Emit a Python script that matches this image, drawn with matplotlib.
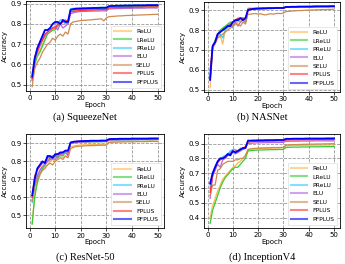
import numpy as np
import matplotlib.pyplot as plt

epochs = np.arange(1, 51)
names = ["ReLU", "LReLU", "PReLU", "ELU", "SELU", "FPLUS", "PFPLUS"]
colors = ["#ffb84d", "#33cc33", "#33ccff", "#b366e0", "#cd8a4e", "#ff3333", "#0000ff"]

# (a) SqueezeNet
squeeze = {
    "ReLU": [0.52,0.61,0.65,0.67,0.70,0.73,0.75,0.76,0.77,0.78,0.79,0.80,0.81,0.80,0.81,0.86,0.865,0.866,0.867,0.868,0.868,0.869,0.870,0.870,0.871,0.871,0.872,0.872,0.872,0.873,0.880,0.881,0.881,0.882,0.882,0.882,0.883,0.883,0.883,0.884,0.884,0.884,0.884,0.885,0.885,0.885,0.885,0.885,0.886,0.886],
    "LReLU": [0.53,0.60,0.64,0.66,0.69,0.72,0.75,0.76,0.77,0.77,0.79,0.80,0.81,0.81,0.80,0.87,0.870,0.871,0.872,0.872,0.873,0.873,0.874,0.874,0.874,0.875,0.875,0.875,0.876,0.876,0.884,0.885,0.885,0.885,0.886,0.886,0.886,0.886,0.887,0.887,0.887,0.887,0.887,0.888,0.888,0.888,0.888,0.888,0.889,0.889],
    "PReLU": [0.55,0.63,0.68,0.71,0.74,0.77,0.77,0.78,0.80,0.81,0.80,0.82,0.82,0.80,0.82,0.875,0.877,0.878,0.878,0.879,0.880,0.880,0.880,0.881,0.881,0.881,0.882,0.882,0.882,0.882,0.889,0.890,0.890,0.890,0.891,0.891,0.891,0.891,0.892,0.892,0.892,0.892,0.892,0.892,0.893,0.893,0.893,0.893,0.893,0.893],
    "ELU": [0.52,0.62,0.66,0.69,0.72,0.74,0.76,0.77,0.78,0.79,0.77,0.80,0.78,0.79,0.80,0.85,0.855,0.858,0.860,0.861,0.862,0.862,0.863,0.863,0.864,0.864,0.864,0.865,0.865,0.865,0.874,0.875,0.875,0.876,0.876,0.876,0.877,0.877,0.877,0.877,0.878,0.878,0.878,0.878,0.878,0.879,0.879,0.879,0.879,0.879],
    "SELU": [0.49,0.58,0.61,0.63,0.66,0.68,0.70,0.71,0.73,0.72,0.74,0.75,0.74,0.76,0.75,0.80,0.810,0.812,0.815,0.816,0.818,0.818,0.820,0.820,0.822,0.823,0.824,0.826,0.815,0.830,0.836,0.837,0.838,0.839,0.840,0.840,0.841,0.842,0.842,0.843,0.843,0.844,0.844,0.845,0.845,0.846,0.846,0.847,0.847,0.848],
    "FPLUS": [0.53,0.64,0.66,0.70,0.72,0.75,0.76,0.77,0.78,0.78,0.80,0.80,0.81,0.82,0.81,0.86,0.862,0.864,0.865,0.866,0.867,0.868,0.868,0.869,0.869,0.870,0.870,0.871,0.871,0.871,0.879,0.880,0.880,0.881,0.881,0.881,0.882,0.882,0.882,0.882,0.883,0.883,0.883,0.883,0.884,0.884,0.884,0.884,0.884,0.885],
    "PFPLUS": [0.54,0.63,0.68,0.71,0.74,0.77,0.77,0.78,0.80,0.81,0.81,0.80,0.82,0.81,0.81,0.87,0.873,0.875,0.876,0.876,0.877,0.877,0.878,0.878,0.879,0.879,0.879,0.880,0.880,0.880,0.888,0.889,0.889,0.890,0.890,0.890,0.891,0.891,0.891,0.891,0.892,0.892,0.892,0.892,0.892,0.893,0.893,0.893,0.893,0.893],
}

# (b) NASNet
nasnet = {
    "ReLU": [0.51,0.70,0.74,0.76,0.77,0.73,0.80,0.81,0.82,0.83,0.84,0.84,0.85,0.85,0.86,0.905,0.906,0.907,0.907,0.908,0.908,0.908,0.909,0.909,0.909,0.910,0.910,0.910,0.910,0.911,0.915,0.915,0.916,0.916,0.916,0.916,0.917,0.917,0.917,0.917,0.917,0.917,0.918,0.918,0.918,0.918,0.918,0.918,0.918,0.918],
    "LReLU": [0.56,0.71,0.75,0.78,0.80,0.81,0.82,0.83,0.84,0.84,0.85,0.85,0.86,0.86,0.85,0.905,0.906,0.907,0.908,0.908,0.909,0.909,0.909,0.910,0.910,0.910,0.910,0.911,0.911,0.911,0.916,0.916,0.917,0.917,0.917,0.917,0.917,0.918,0.918,0.918,0.918,0.918,0.918,0.918,0.919,0.919,0.919,0.919,0.919,0.919],
    "PReLU": [0.57,0.72,0.74,0.77,0.78,0.76,0.80,0.82,0.83,0.81,0.84,0.85,0.84,0.85,0.84,0.91,0.910,0.910,0.911,0.911,0.911,0.912,0.912,0.912,0.912,0.913,0.913,0.913,0.913,0.913,0.917,0.917,0.917,0.918,0.918,0.918,0.918,0.918,0.918,0.919,0.919,0.919,0.919,0.919,0.919,0.919,0.919,0.920,0.920,0.920],
    "ELU": [0.55,0.72,0.74,0.78,0.79,0.80,0.81,0.82,0.83,0.82,0.84,0.82,0.84,0.85,0.84,0.90,0.903,0.905,0.906,0.906,0.907,0.907,0.908,0.908,0.908,0.909,0.909,0.909,0.909,0.910,0.914,0.914,0.915,0.915,0.915,0.915,0.916,0.916,0.916,0.916,0.916,0.916,0.917,0.917,0.917,0.917,0.917,0.917,0.917,0.917],
    "SELU": [0.55,0.71,0.73,0.76,0.77,0.78,0.79,0.80,0.81,0.82,0.83,0.83,0.82,0.84,0.83,0.88,0.880,0.882,0.883,0.880,0.882,0.878,0.876,0.880,0.882,0.880,0.883,0.884,0.883,0.886,0.893,0.894,0.895,0.896,0.897,0.898,0.898,0.899,0.900,0.900,0.901,0.901,0.902,0.902,0.903,0.903,0.903,0.904,0.904,0.905],
    "FPLUS": [0.60,0.72,0.74,0.78,0.79,0.80,0.81,0.82,0.83,0.84,0.85,0.86,0.86,0.86,0.86,0.905,0.907,0.908,0.909,0.909,0.910,0.910,0.910,0.911,0.911,0.911,0.911,0.912,0.912,0.912,0.916,0.916,0.917,0.917,0.917,0.917,0.918,0.918,0.918,0.918,0.918,0.918,0.919,0.919,0.919,0.919,0.919,0.919,0.919,0.919],
    "PFPLUS": [0.55,0.72,0.74,0.78,0.79,0.80,0.81,0.82,0.82,0.84,0.85,0.85,0.86,0.85,0.86,0.90,0.904,0.906,0.907,0.908,0.908,0.909,0.909,0.910,0.910,0.910,0.911,0.911,0.911,0.911,0.916,0.916,0.917,0.917,0.917,0.918,0.918,0.918,0.918,0.918,0.918,0.919,0.919,0.919,0.919,0.919,0.919,0.919,0.920,0.920],
}

# (c) ResNet-50
resnet = {
    "ReLU": [0.45,0.62,0.68,0.72,0.75,0.77,0.78,0.80,0.81,0.80,0.82,0.83,0.82,0.83,0.82,0.88,0.885,0.888,0.890,0.891,0.892,0.892,0.893,0.893,0.894,0.894,0.895,0.895,0.895,0.896,0.908,0.909,0.909,0.910,0.910,0.910,0.911,0.911,0.911,0.911,0.912,0.912,0.912,0.912,0.912,0.913,0.913,0.913,0.913,0.913],
    "LReLU": [0.45,0.60,0.68,0.73,0.76,0.78,0.80,0.82,0.81,0.83,0.82,0.84,0.83,0.85,0.84,0.90,0.903,0.905,0.906,0.907,0.907,0.908,0.908,0.909,0.909,0.909,0.910,0.910,0.910,0.910,0.918,0.918,0.919,0.919,0.919,0.920,0.920,0.920,0.920,0.920,0.921,0.921,0.921,0.921,0.921,0.921,0.921,0.921,0.922,0.922],
    "PReLU": [0.57,0.66,0.71,0.75,0.77,0.79,0.81,0.81,0.82,0.84,0.84,0.83,0.85,0.85,0.84,0.905,0.907,0.908,0.909,0.910,0.910,0.911,0.911,0.912,0.912,0.912,0.913,0.913,0.913,0.913,0.920,0.921,0.921,0.921,0.922,0.922,0.922,0.922,0.922,0.923,0.923,0.923,0.923,0.923,0.923,0.923,0.924,0.924,0.924,0.924],
    "ELU": [0.58,0.67,0.72,0.75,0.77,0.78,0.80,0.81,0.82,0.81,0.83,0.84,0.84,0.85,0.83,0.90,0.903,0.905,0.906,0.907,0.908,0.908,0.909,0.909,0.910,0.910,0.910,0.910,0.911,0.911,0.918,0.919,0.919,0.920,0.920,0.920,0.920,0.921,0.921,0.921,0.921,0.921,0.922,0.922,0.922,0.922,0.922,0.922,0.922,0.922],
    "SELU": [0.58,0.66,0.70,0.73,0.75,0.76,0.78,0.79,0.78,0.80,0.81,0.82,0.81,0.83,0.82,0.87,0.878,0.882,0.884,0.885,0.886,0.887,0.887,0.888,0.888,0.889,0.889,0.890,0.890,0.890,0.905,0.906,0.907,0.907,0.908,0.908,0.908,0.909,0.909,0.909,0.909,0.910,0.910,0.910,0.910,0.910,0.911,0.911,0.911,0.911],
    "FPLUS": [0.60,0.72,0.75,0.77,0.79,0.80,0.82,0.82,0.83,0.83,0.84,0.84,0.85,0.86,0.85,0.905,0.908,0.910,0.911,0.912,0.912,0.913,0.913,0.913,0.914,0.914,0.914,0.914,0.915,0.915,0.922,0.922,0.923,0.923,0.923,0.923,0.924,0.924,0.924,0.924,0.924,0.924,0.925,0.925,0.925,0.925,0.925,0.925,0.925,0.925],
    "PFPLUS": [0.61,0.70,0.76,0.78,0.80,0.79,0.83,0.83,0.82,0.84,0.84,0.85,0.85,0.86,0.86,0.905,0.909,0.911,0.912,0.913,0.913,0.914,0.914,0.915,0.915,0.915,0.915,0.916,0.916,0.916,0.924,0.925,0.925,0.925,0.926,0.926,0.926,0.926,0.926,0.927,0.927,0.927,0.927,0.927,0.927,0.927,0.928,0.928,0.928,0.928],
}

# (d) InceptionV4
inception = {
    "ReLU": [0.40,0.48,0.53,0.58,0.62,0.66,0.68,0.70,0.72,0.74,0.75,0.77,0.78,0.80,0.82,0.86,0.862,0.864,0.865,0.866,0.867,0.868,0.868,0.869,0.869,0.870,0.870,0.870,0.871,0.871,0.885,0.886,0.886,0.887,0.887,0.887,0.888,0.888,0.888,0.888,0.889,0.889,0.889,0.889,0.889,0.890,0.890,0.890,0.890,0.890],
    "LReLU": [0.36,0.45,0.50,0.55,0.60,0.64,0.67,0.69,0.71,0.73,0.74,0.74,0.76,0.78,0.80,0.85,0.852,0.854,0.855,0.856,0.857,0.857,0.858,0.858,0.859,0.859,0.859,0.860,0.860,0.860,0.874,0.875,0.875,0.876,0.876,0.876,0.877,0.877,0.877,0.877,0.878,0.878,0.878,0.878,0.878,0.879,0.879,0.879,0.879,0.880],
    "PReLU": [0.60,0.70,0.75,0.78,0.80,0.81,0.82,0.83,0.85,0.86,0.86,0.85,0.87,0.86,0.87,0.92,0.918,0.919,0.919,0.920,0.920,0.920,0.921,0.921,0.921,0.921,0.922,0.922,0.922,0.922,0.928,0.928,0.929,0.929,0.929,0.929,0.930,0.930,0.930,0.930,0.930,0.930,0.930,0.931,0.931,0.931,0.931,0.931,0.931,0.931],
    "ELU": [0.53,0.68,0.72,0.76,0.74,0.79,0.80,0.82,0.84,0.85,0.83,0.84,0.85,0.86,0.87,0.90,0.902,0.903,0.904,0.905,0.905,0.906,0.906,0.906,0.907,0.907,0.907,0.907,0.908,0.908,0.915,0.915,0.916,0.916,0.916,0.916,0.917,0.917,0.917,0.917,0.917,0.918,0.918,0.918,0.918,0.918,0.918,0.918,0.918,0.918],
    "SELU": [0.55,0.62,0.62,0.72,0.73,0.76,0.77,0.78,0.78,0.78,0.79,0.79,0.80,0.80,0.82,0.86,0.864,0.866,0.868,0.869,0.870,0.870,0.871,0.872,0.872,0.873,0.873,0.873,0.874,0.874,0.890,0.891,0.892,0.893,0.893,0.894,0.894,0.895,0.895,0.896,0.896,0.896,0.897,0.897,0.897,0.898,0.898,0.898,0.899,0.899],
    "FPLUS": [0.57,0.68,0.74,0.77,0.79,0.80,0.81,0.82,0.83,0.84,0.85,0.85,0.86,0.87,0.88,0.91,0.912,0.913,0.914,0.915,0.915,0.916,0.916,0.916,0.917,0.917,0.917,0.918,0.918,0.918,0.924,0.924,0.925,0.925,0.925,0.925,0.926,0.926,0.926,0.926,0.926,0.926,0.927,0.927,0.927,0.927,0.927,0.927,0.927,0.927],
    "PFPLUS": [0.63,0.70,0.74,0.78,0.80,0.80,0.81,0.83,0.82,0.85,0.84,0.85,0.86,0.87,0.87,0.92,0.920,0.921,0.921,0.922,0.922,0.922,0.923,0.923,0.923,0.923,0.924,0.924,0.924,0.924,0.932,0.932,0.932,0.933,0.933,0.933,0.933,0.933,0.934,0.934,0.934,0.934,0.934,0.934,0.934,0.934,0.935,0.935,0.935,0.935],
}

panels = [
    (squeeze, "(a) SqueezeNet", [0.075, 0.656, 0.400, 0.340], (0.246, 0.557), [0.5, 0.6, 0.7, 0.8, 0.9]),
    (nasnet, "(b) NASNet", [0.591, 0.652, 0.395, 0.340], (0.760, 0.557), [0.5, 0.6, 0.7, 0.8, 0.9]),
    (resnet, "(c) ResNet-50", [0.075, 0.135, 0.400, 0.357], (0.246, 0.025), [0.5, 0.6, 0.7, 0.8, 0.9]),
    (inception, "(d) InceptionV4", [0.591, 0.137, 0.395, 0.355], (0.760, 0.025), [0.4, 0.5, 0.6, 0.7, 0.8, 0.9]),
]

fig = plt.figure(figsize=(3.45, 2.64), dpi=100)

for data, caption, rect, cpos, yticks in panels:
    ax = fig.add_axes(rect)
    for name, c in zip(names, colors):
        lw = 1.3 if name == "PFPLUS" else 0.9
        ax.plot(epochs, data[name], color=c, lw=lw, label=name)
    ax.set_xticks([0, 10, 20, 30, 40, 50])
    ax.set_yticks(yticks)
    ax.grid(True, linestyle="--", color="#999999", linewidth=0.6)
    ax.tick_params(labelsize=5, length=2, width=0.5, pad=1)
    for s in ax.spines.values():
        s.set_linewidth(0.6)
    ax.set_xlabel("Epoch", fontsize=5, labelpad=0.5)
    ax.set_ylabel("Accuracy", fontsize=5, labelpad=2)
    leg = ax.legend(loc="lower right", fontsize=4.3, handlelength=2.8,
                    labelspacing=0.55, borderpad=0.5, framealpha=1,
                    edgecolor="#dddddd", fancybox=False)
    leg.get_frame().set_linewidth(0.5)
    for h in leg.get_lines():
        h.set_linewidth(1.5)
        h.set_alpha(0.6)
    fig.text(cpos[0], cpos[1], caption, fontsize=7.5, family="Liberation Serif",
             ha="center", va="center")

fig.savefig("out.png", dpi=100)
